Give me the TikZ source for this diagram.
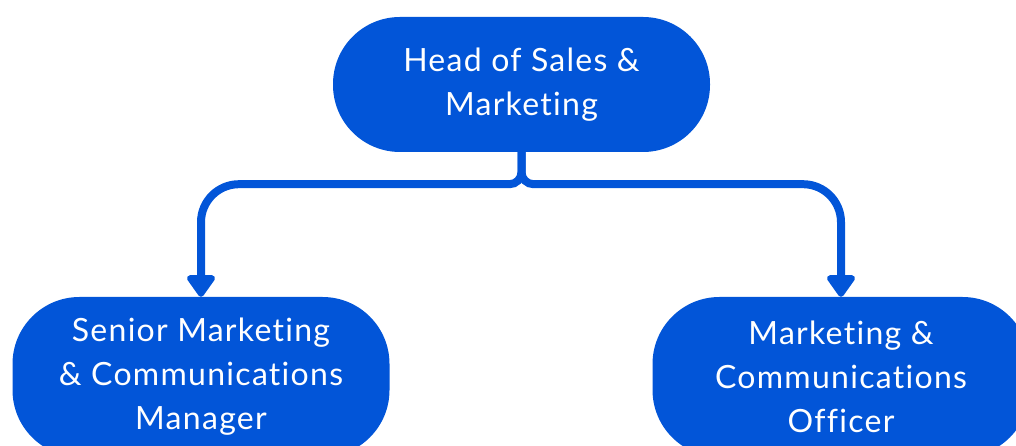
\documentclass[tikz,border=0pt]{standalone}
\usepackage{fontspec}
\setmainfont[Ligatures=NoCommon, LetterSpace=4]{Lato}
\usetikzlibrary{arrows.meta}
\definecolor{orgblue}{RGB}{2,85,216}
\begin{document}
\begin{tikzpicture}[x=1pt,y=1pt,
  role/.style={fill=orgblue, draw=none, rounded corners=67pt, text=white,
    align=center, inner sep=0pt, font=\fontsize{32}{44}\selectfont},
  conn/.style={draw=orgblue, line width=8pt,
    -{Triangle[width=32pt,length=24pt,round]}}]
  \useasboundingbox (0,0) rectangle (1016,446);
  % positions
  \node[role, minimum width=377pt, minimum height=135pt] (head) at (521.5,361.5)
    {Head of Sales \&\\Marketing};
  \node[role, minimum width=377pt, minimum height=160pt] (senior) at (201,69)
    {Senior Marketing\\\& Communications\\Manager};
  \node[role, minimum width=377pt, minimum height=160pt] (officer) at (841,69)
    {Marketing \&\\Communications\\Officer};
  % reporting lines
  \draw[conn] (head.south) -- ++(0,-20)
    arc[start angle=0, end angle=-90, radius=12pt]
    [rounded corners=38pt] -| (senior.north);
  \draw[conn] (head.south) -- ++(0,-20)
    arc[start angle=180, end angle=270, radius=12pt]
    [rounded corners=38pt] -| (officer.north);
\end{tikzpicture}
\end{document}
